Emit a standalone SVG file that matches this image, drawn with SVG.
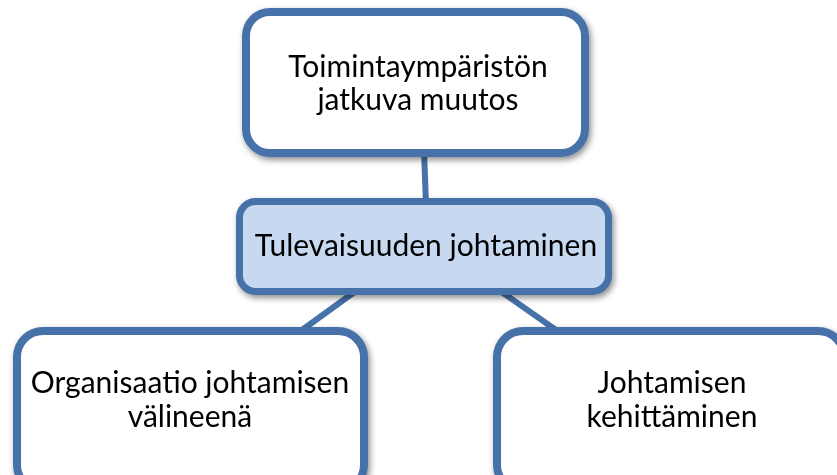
<svg xmlns="http://www.w3.org/2000/svg" width="837" height="475" viewBox="0 0 837 475">
  <defs>
    <filter id="shadow" x="-10%" y="-10%" width="125%" height="130%">
      <feGaussianBlur in="SourceAlpha" stdDeviation="3"/>
      <feOffset dx="2" dy="3" result="blur"/>
      <feComponentTransfer><feFuncA type="linear" slope="0.45"/></feComponentTransfer>
      <feMerge><feMergeNode/><feMergeNode in="SourceGraphic"/></feMerge>
    </filter>
  </defs>
  <style>
    .box { fill: #ffffff; stroke: #4671a9; stroke-width: 8; }
    .box.main { fill: #c6d9f1; stroke-width: 7; }
    .link { stroke: #4671a9; stroke-width: 6; fill: none; }
    .label { font-family: Lato, "Open Sans", sans-serif; font-size: 30px; fill: #000000; text-anchor: middle; }
  </style>
  <rect width="837" height="475" fill="#ffffff"/>

  <g id="connectors">
    <line class="link" x1="424" y1="150" x2="426" y2="205"/>
    <line class="link" x1="360" y1="288" x2="302" y2="330"/>
    <line class="link" x1="496" y1="288" x2="556" y2="330"/>
  </g>

  <g id="node-top" filter="url(#shadow)">
    <rect class="box" x="246" y="12" width="339" height="141" rx="24"/>
    <text class="label" x="418" y="77">Toimintaympäristön</text>
    <text class="label" x="418" y="110">jatkuva muutos</text>
  </g>

  <g id="node-center" filter="url(#shadow)">
    <rect class="box main" x="239.5" y="201.5" width="369" height="90" rx="16"/>
    <text class="label" x="426" y="256">Tulevaisuuden johtaminen</text>
  </g>

  <g id="node-left" filter="url(#shadow)">
    <rect class="box" x="17" y="331" width="347" height="160" rx="26"/>
    <text class="label" x="190" y="393">Organisaatio johtamisen</text>
    <text class="label" x="190" y="427">välineenä</text>
  </g>

  <g id="node-right" filter="url(#shadow)">
    <rect class="box" x="497" y="331" width="347" height="160" rx="26"/>
    <text class="label" x="672" y="393">Johtamisen</text>
    <text class="label" x="672" y="427">kehittäminen</text>
  </g>
</svg>
